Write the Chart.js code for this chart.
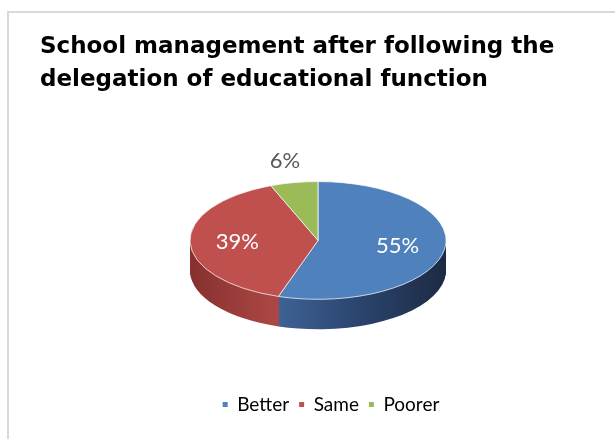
<!DOCTYPE html>
<html>
<head>
<meta charset="utf-8">
<script src="https://cdn.jsdelivr.net/npm/chart.js@4.4.1/dist/chart.umd.min.js"></script>
<style>
	html, body { margin:0; padding:0; background:#fff; overflow:hidden; }
	#marco { position:absolute; left:7px; top:11px; width:700px; height:600px; border:2px solid #d9d9d9; }
	#grafico { position:absolute; left:0; top:0; }
</style>
</head>
<body>
<div id="marco"></div>
<canvas id="grafico" width="615" height="439"></canvas>
<script>
let titulo = ['School management after following the', 'delegation of educational function'];
let categorias = ['Better', 'Same', 'Poorer'];
let porcentajes = [55, 39, 6];

let colores_cara = ['#4f81bd', '#c0504d', '#9bbb59'];
// degradado de la pared lateral de cada porcion (posicion 0..1 a lo ancho del pastel)
let colores_lado = [
	[[0.3, '#41669b'], [0.65, '#2b4570'], [1, '#1c2b44']],
	[[0, '#86312f'], [0.32, '#ab4643']],
	[[0, '#7d9a45'], [1, '#6b843a']]
];

const fuente_calibri = "Lato, 'Open Sans', sans-serif";

// dibuja la pared del pastel y aplasta la cara superior para que parezca 3D
const pastel_3d = {
	id: 'pastel_3d',
	beforeDatasetsDraw(chart, args, opts) {
		const ctx = chart.ctx;
		const arcos = chart.getDatasetMeta(0).data;
		const {x, y, outerRadius: r} = arcos[0];
		ctx.save();
		ctx.translate(x, y);
		ctx.scale(1, opts.inclinacion);
		ctx.translate(-x, -y);
		let paredes = arcos.map((arco, i) => {
			let grad = ctx.createLinearGradient(x - r, 0, x + r, 0);
			colores_lado[i].forEach(([p, c]) => grad.addColorStop(p, c));
			let copia = Object.create(arco);
			copia.options = Object.assign({}, arco.options, {backgroundColor: grad, borderWidth: 0});
			return copia;
		});
		for (let d = opts.grosor; d > 0; d--) {
			ctx.save();
			ctx.translate(0, d / opts.inclinacion);
			paredes.forEach(p => p.draw(ctx));
			ctx.restore();
		}
	},
	afterDatasetsDraw(chart, args, opts) {
		const ctx = chart.ctx;
		ctx.restore();
		// etiquetas de porcentaje
		const arcos = chart.getDatasetMeta(0).data;
		ctx.save();
		ctx.font = `22px ${fuente_calibri}`;
		ctx.textAlign = 'center';
		ctx.textBaseline = 'middle';
		arcos.forEach((arco, i) => {
			const medio = (arco.startAngle + arco.endAngle) / 2;
			const fuera = porcentajes[i] < 10;
			const f = fuera ? 1.38 : 0.63;
			const px = arco.x + Math.cos(medio) * arco.outerRadius * f;
			const py = arco.y + Math.sin(medio) * arco.outerRadius * f * opts.inclinacion;
			ctx.fillStyle = fuera ? '#595959' : '#ffffff';
			ctx.fillText(porcentajes[i] + '%', px, py);
		});
		ctx.restore();
	},
	afterLayout(chart, args, opts) {
		// la leyenda va un poco corrida a la derecha
		chart.legend.left += opts.corrimiento_leyenda;
		chart.legend.right += opts.corrimiento_leyenda;
	}
};

const ctx = document.getElementById('grafico').getContext('2d');
const grafico = new Chart(ctx, {
	type: 'pie',
	data: {
		labels: categorias,
		datasets: [{
			data: porcentajes,
			backgroundColor: colores_cara,
			borderColor: '#ffffff',
			borderWidth: 1
		}]
	},
	options: {
		responsive: false,
		animation: false,
		events: [],
		radius: 128,
		layout: {
			padding: {left: 40, right: 19, top: 31, bottom: 15}
		},
		plugins: {
			tooltip: {enabled: false},
			title: {
				display: true,
				text: titulo,
				align: 'start',
				color: '#000000',
				padding: 0,
				font: {family: "'DejaVu Sans', sans-serif", size: 23, weight: 'bold', lineHeight: 1.41}
			},
			legend: {
				position: 'bottom',
				labels: {
					boxWidth: 5,
					boxHeight: 5,
					padding: 10,
					color: '#000000',
					font: {family: fuente_calibri, size: 19},
					generateLabels: chart => Chart.overrides.doughnut.plugins.legend.labels.generateLabels(chart).map(l => ({...l, lineWidth: 0}))
				}
			},
			pastel_3d: {inclinacion: 0.46, grosor: 30, corrimiento_leyenda: 13}
		}
	},
	plugins: [pastel_3d]
});
</script>
</body>
</html>
